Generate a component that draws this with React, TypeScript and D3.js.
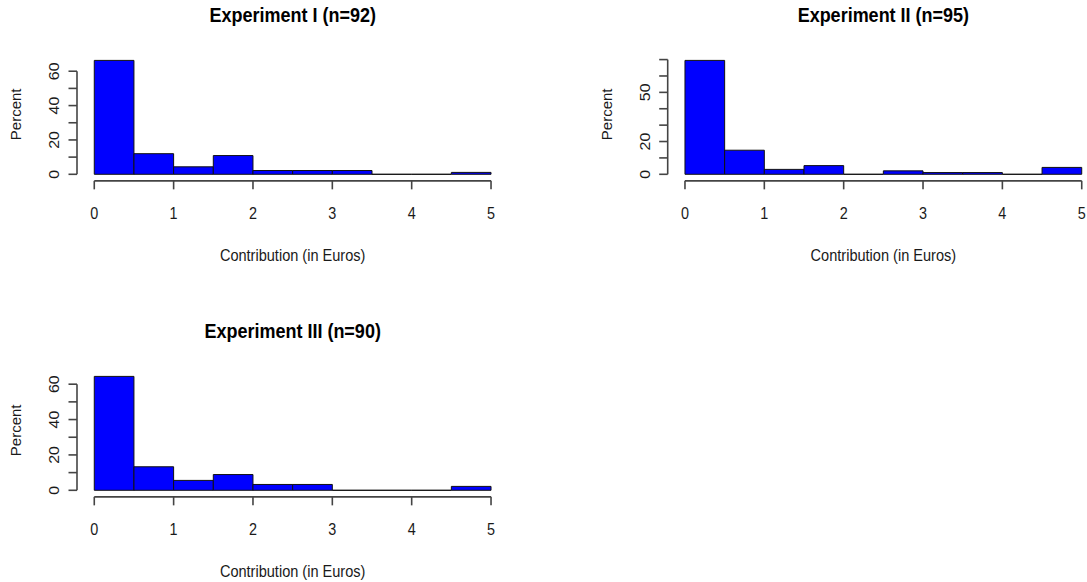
import React from "react";
import * as d3 from "d3";

const binEdges = [0, 0.5, 1, 1.5, 2, 2.5, 3, 3.5, 4, 4.5, 5];
const xTicks = [0, 1, 2, 3, 4, 5];

const exp1Title = "Experiment I (n=92)";
const exp1Values = [66.3, 12.0, 4.35, 10.9, 2.2, 2.2, 2.2, 0, 0, 1.1];
const exp1YTicks = [0, 10, 20, 30, 40, 50, 60];
const exp1YLabels = [0, 20, 40, 60];

const exp2Title = "Experiment II (n=95)";
const exp2Values = [69.5, 14.7, 3.0, 5.3, 0, 2.1, 1.05, 1.05, 0, 4.2];
const exp2YTicks = [0, 10, 20, 30, 40, 50, 60, 70];
const exp2YLabels = [0, 20, 50];

const exp3Title = "Experiment III (n=90)";
const exp3Values = [64.4, 13.3, 5.6, 8.9, 3.3, 3.3, 0, 0, 0, 2.2];
const exp3YTicks = [0, 10, 20, 30, 40, 50, 60];
const exp3YLabels = [0, 20, 40, 60];

const xLabel = "Contribution (in Euros)";
const yLabel = "Percent";

const FONT = "'Liberation Sans', Arial, Helvetica, sans-serif";
const AXIS = "#444";
const TEXT = "#1a1a1a";

type PanelProps = {
  ox: number;
  oy: number;
  title: string;
  values: number[];
  yTicks: number[];
  yLabels: number[];
};

function Panel({ ox, oy, title, values, yTicks, yLabels }: PanelProps) {
  const left = 78.4, right = 506.9, top = 55.85, bottom = 178.85;
  const x = d3.scaleLinear().domain([-0.2, 5.2]).range([left, right]);
  const ymax = d3.max(values) as number;
  const y = d3
    .scaleLinear()
    .domain([-0.04 * ymax, 1.04 * ymax])
    .range([bottom, top]);
  const axisY = bottom + 2;
  const axisX = left - 1.4;
  const cx = (left + right) / 2;
  const bars = values.map((v, i) => {
    const x0 = x(binEdges[i]);
    const x1 = x(binEdges[i + 1]);
    const y0 = y(0);
    const y1 = y(v);
    return `M${x0},${y0}H${x1}V${y1}H${x0}Z`;
  });
  return (
    <g transform={`translate(${ox},${oy})`}>
      <text
        transform={`translate(${cx},22) scale(0.9,1)`}
        textAnchor="middle"
        fontFamily={FONT}
        fontWeight="bold"
        fontSize={20}
        fill="#000"
      >
        {title}
      </text>
      {bars.map((d, i) => (
        <path key={i} d={d} fill="#0000ff" stroke="#111" strokeWidth={1} />
      ))}
      {/* x axis */}
      <line
        x1={x(xTicks[0])}
        x2={x(xTicks[xTicks.length - 1])}
        y1={axisY}
        y2={axisY}
        stroke={AXIS}
        strokeWidth={1.6}
      />
      {xTicks.map((t) => (
        <g key={t}>
          <line
            x1={x(t)}
            x2={x(t)}
            y1={axisY}
            y2={axisY + 8.5}
            stroke={AXIS}
            strokeWidth={1.6}
          />
          <text
            transform={`translate(${x(t)},${axisY + 38.5}) scale(0.9,1)`}
            textAnchor="middle"
            fontFamily={FONT}
            fontSize={16}
            fill={TEXT}
          >
            {t}
          </text>
        </g>
      ))}
      <text
        transform={`translate(${cx},${axisY + 80}) scale(0.91,1)`}
        textAnchor="middle"
        fontFamily={FONT}
        fontSize={16}
        fill={TEXT}
      >
        {xLabel}
      </text>
      {/* y axis */}
      <line
        x1={axisX}
        x2={axisX}
        y1={y(yTicks[0])}
        y2={y(yTicks[yTicks.length - 1])}
        stroke={AXIS}
        strokeWidth={1.6}
      />
      {yTicks.map((t) => (
        <line
          key={t}
          x1={axisX - 8.5}
          x2={axisX}
          y1={y(t)}
          y2={y(t)}
          stroke={AXIS}
          strokeWidth={1.6}
        />
      ))}
      {yLabels.map((t) => (
        <text
          key={t}
          transform={`translate(${axisX - 18},${y(t)}) rotate(-90) scale(1,0.9)`}
          textAnchor="middle"
          fontFamily={FONT}
          fontSize={16}
          fill={TEXT}
        >
          {t}
        </text>
      ))}
      <text
        transform={`translate(${axisX - 56},${(top + bottom) / 2 - 3}) rotate(-90)`}
        textAnchor="middle"
        fontFamily={FONT}
        fontSize={15}
        fill={TEXT}
      >
        {yLabel}
      </text>
    </g>
  );
}

export default function App() {
  return (
    <svg
      width={1087}
      height={582}
      style={{ position: "absolute", left: 0, top: 0, background: "#fff" }}
    >
      <rect width={1087} height={582} fill="#fff" />
      <Panel
        ox={0}
        oy={0}
        title={exp1Title}
        values={exp1Values}
        yTicks={exp1YTicks}
        yLabels={exp1YLabels}
      />
      <Panel
        ox={590.7}
        oy={0}
        title={exp2Title}
        values={exp2Values}
        yTicks={exp2YTicks}
        yLabels={exp2YLabels}
      />
      <Panel
        ox={0}
        oy={316}
        title={exp3Title}
        values={exp3Values}
        yTicks={exp3YTicks}
        yLabels={exp3YLabels}
      />
    </svg>
  );
}
